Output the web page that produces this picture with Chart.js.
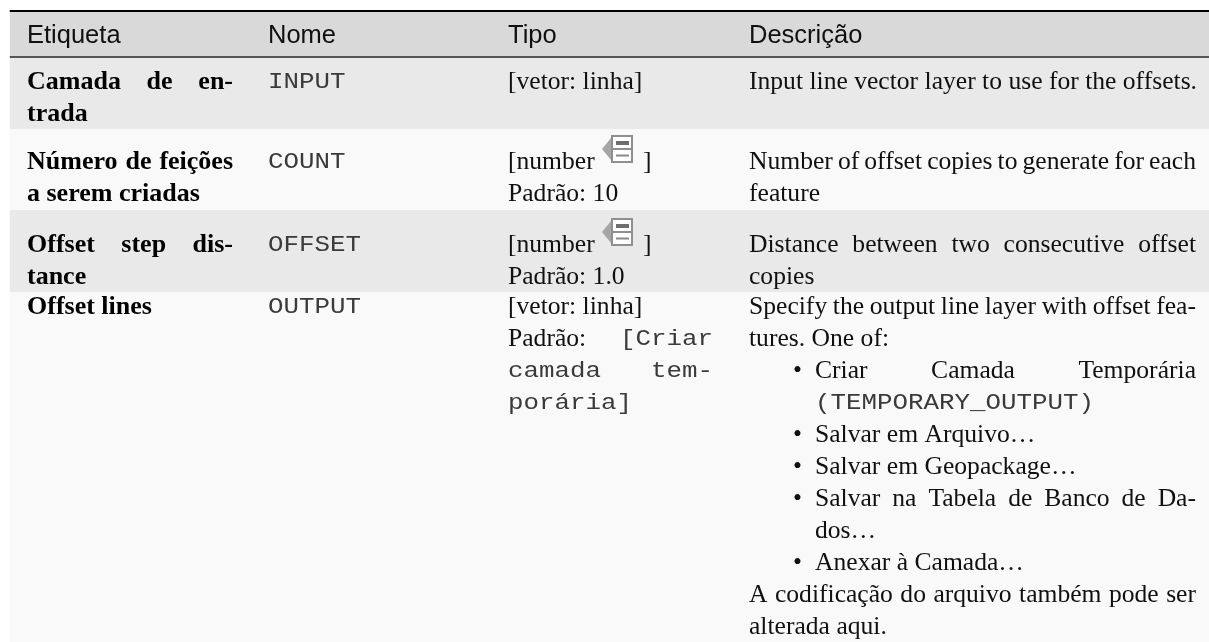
<!DOCTYPE html>
<html lang="pt">
<head>
<meta charset="utf-8">
<style>html,body{margin:0;padding:0;background:#fff}canvas{display:block}</style>
<script src="https://cdn.jsdelivr.net/npm/chart.js@4"></script>
</head>
<body>
<canvas id="c" width="1209" height="642"></canvas>
<script>
// Table content
const headers = ["Etiqueta", "Nome", "Tipo", "Descrição"];
const labels = [["Camada de en-", "trada"], ["Número de feições", "a serem criadas"], ["Offset step dis-", "tance"], ["Offset lines"]];
const justifiedLabels = ["Camada de en-", "Número de feições", "Offset step dis-"];
const names = ["INPUT", "COUNT", "OFFSET", "OUTPUT"];
const types = [
  [{s:"[vetor: linha]"}],
  [{s:"[number", icon:true}, {s:"Padrão: 10"}],
  [{s:"[number", icon:true}, {s:"Padrão: 1.0"}],
  [{s:"[vetor: linha]"}, {s:"Padrão:", m:"[Criar"}, {m:"camada", m2:"tem-"}, {m:"porária]"}]
];
const descriptions = [
  [{s:"Input line vector layer to use for the offsets."}],
  [{s:"Number of offset copies to generate for each", j:1}, {s:"feature"}],
  [{s:"Distance between two consecutive offset", j:1}, {s:"copies"}],
  [{s:"Specify the output line layer with offset fea-", j:1},
   {s:"tures. One of:"},
   {s:"Criar Camada Temporária", j:1, b:1},
   {m:"(TEMPORARY_OUTPUT)", i:1},
   {s:"Salvar em Arquivo…", b:1},
   {s:"Salvar em Geopackage…", b:1},
   {s:"Salvar na Tabela de Banco de Da-", j:1, b:1},
   {s:"dos…", i:1},
   {s:"Anexar à Camada…", b:1},
   {s:"A codificação do arquivo também pode ser", j:1},
   {s:"alterada aqui."}]
];
// Layout
const bandNames = ["margin","topRule","header","headRule","row1","row2","row3","row4"];
const bandHeights = [10, 2, 44, 2, 71, 81, 82, 350];
const bandColors = ["#ffffff","#000000","#d9d9d9","#555555","#e9e9e9","#f9f9f9","#e9e9e9","#f9f9f9"];
const colX = [27, 268, 508, 749];
const colRight = [233, 0, 713, 1196];
const firstBaseline = [88, 168, 251, 313];
const headBaseline = 42;
const pitch = 32;
const SERIF = '25.6px "Liberation Serif"', BOLD = 'bold 26px "Liberation Serif"',
      SANS = '25.5px "Liberation Sans"', MONO = '22px "Liberation Mono"';
const monoAdvance = 15.5;
const INK = "#101010", MONOINK = "#3a3a3a";

const tablePlugin = {
  id: "tableText",
  afterDatasetsDraw(chart) {
    const ctx = chart.ctx, X = chart.scales.px, Y = chart.scales.y;
    const x = v => X.getPixelForValue(v), y = v => Y.getPixelForValue(v);
    function text(s, px, py, font, color, target) {
      ctx.font = font; ctx.fillStyle = color; ctx.textBaseline = "alphabetic"; ctx.textAlign = "left";
      ctx.wordSpacing = "0px";
      if (target) {
        const n = s.split(" ").length - 1;
        if (n) ctx.wordSpacing = ((target - ctx.measureText(s).width) / n) + "px";
      }
      ctx.fillText(s, x(px), y(py + 1));
      ctx.wordSpacing = "0px";
    }
    function mono(s, px, py) {
      ctx.save();
      ctx.font = MONO; ctx.fillStyle = MONOINK; ctx.textBaseline = "alphabetic"; ctx.textAlign = "left";
      const sx = monoAdvance / ctx.measureText("M").width;
      ctx.translate(x(px), y(py)); ctx.scale(sx, 1);
      ctx.fillText(s, 0, 0);
      ctx.restore();
    }
    function icon(px, py) {
      // data-defined override icon, top-left at (px,py)
      ctx.save();
      ctx.translate(x(px), y(py));
      ctx.fillStyle = "#a6a6a6";
      ctx.beginPath(); ctx.moveTo(0,14); ctx.lineTo(9,3); ctx.lineTo(9,25); ctx.closePath(); ctx.fill();
      ctx.fillStyle = "#ffffff"; ctx.strokeStyle = "#8f8f8f"; ctx.lineWidth = 2;
      ctx.beginPath(); ctx.rect(10,1,20,26); ctx.fill(); ctx.stroke();
      ctx.beginPath(); ctx.moveTo(10,14); ctx.lineTo(30,14); ctx.stroke();
      ctx.fillStyle = "#6e6e6e"; ctx.fillRect(14,6,13,4);
      ctx.fillStyle = "#8a8a8a"; ctx.fillRect(14,19.5,13,2);
      ctx.restore();
    }
    headers.forEach((h, i) => text(h, colX[i], headBaseline, SANS, INK));
    firstBaseline.forEach((b0, r) => {
      labels[r].forEach((s, i) => {
        const just = justifiedLabels.includes(s);
        text(s, colX[0], b0 + pitch * i, BOLD, "#000", just ? colRight[0] - colX[0] : 0);
      });
      mono(names[r], colX[1], b0);
      types[r].forEach((l, i) => {
        const b = b0 + pitch * i;
        if (l.s) text(l.s, colX[2], b, SERIF, INK);
        if (l.icon) { icon(602, b - 33); text("]", 643, b, SERIF, INK); }
        if (l.s && l.m) mono(l.m, colRight[2] - monoAdvance * l.m.length, b);
        if (!l.s && l.m) mono(l.m, colX[2], b);
        if (l.m2) mono(l.m2, colRight[2] - monoAdvance * l.m2.length, b);
      });
      descriptions[r].forEach((l, i) => {
        const b = b0 + pitch * i;
        const left = colX[3] + ((l.b || l.i) ? 66 : 0);
        if (l.b) text("•", colX[3] + 44, b, SERIF, INK);
        if (l.m) mono(l.m, left, b);
        else text(l.s, left, b, SERIF, INK, l.j ? colRight[3] - left : 0);
      });
    });
  }
};

new Chart(document.getElementById("c"), {
  type: "bar",
  data: {
    labels: ["table"],
    datasets: bandNames.map((n, i) => ({
      label: n, data: [bandHeights[i]], backgroundColor: bandColors[i],
      borderWidth: 0, inflateAmount: 0, barPercentage: 1, categoryPercentage: 1, stack: "t"
    }))
  },
  plugins: [tablePlugin],
  options: {
    responsive: false, animation: false,
    layout: { padding: { left: 9.5 } },
    plugins: { legend: { display: false }, tooltip: { enabled: false }, title: { display: false } },
    scales: {
      x: { stacked: true, display: false, offset: true },
      y: { stacked: true, display: false, reverse: true, min: 0, max: 642 },
      px: { type: "linear", axis: "x", display: false, offset: false, min: 9.5, max: 1209 }
    }
  }
});
</script>
</body>
</html>
